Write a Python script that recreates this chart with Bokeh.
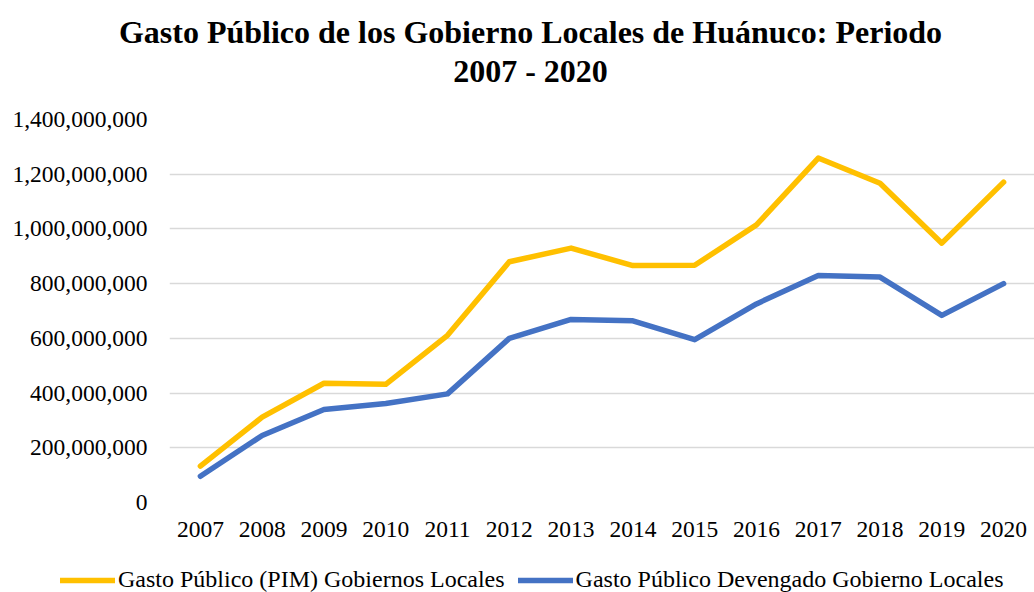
from bokeh.plotting import figure
from bokeh.layouts import column
from bokeh.models import (FactorRange, Range1d, SingleIntervalTicker, NumeralTickFormatter,
                          Label, Legend, LegendItem)
from bokeh.embed import file_html
from bokeh.resources import INLINE

years = ["2007", "2008", "2009", "2010", "2011", "2012", "2013",
         "2014", "2015", "2016", "2017", "2018", "2019", "2020"]
pim = [133e6, 312e6, 436e6, 432e6, 611e6, 880e6, 930e6,
       866e6, 867e6, 1015e6, 1259e6, 1167e6, 948e6, 1171e6]
devengado = [96e6, 245e6, 340e6, 362e6, 397e6, 600e6, 669e6,
             664e6, 595e6, 726e6, 830e6, 824e6, 684e6, 800e6]

title_line1 = "Gasto Público de los Gobierno Locales de Huánuco: Periodo"
title_line2 = "2007 - 2020"
name_pim = "Gasto Público (PIM) Gobiernos Locales"
name_dev = "Gasto Público Devengado Gobierno Locales"

FONT = "Liberation Serif"
GOLD = "#FFC000"
BLUE = "#4472C4"
W = 1034
HEAD_H = 100
FOOT_H = 36
MAIN_H = 592 - HEAD_H - FOOT_H


def blank(height):
    f = figure(width=W, height=height, x_range=Range1d(0, W), y_range=Range1d(height, 0),
               x_axis_type=None, y_axis_type=None, output_backend="svg",
               toolbar_location=None, min_border=0, frame_align=False)
    f.outline_line_color = None
    f.xgrid.visible = False
    f.ygrid.visible = False
    return f


# ---- title block
head = blank(HEAD_H)
for txt, base in ((title_line1, 31), (title_line2, 70)):
    head.add_layout(Label(x=530, y=base, text=txt, text_font=FONT, text_font_style="bold",
                          text_font_size="32px", text_align="center",
                          text_baseline="alphabetic", text_color="black"))

# ---- main chart
p = figure(width=W, height=MAIN_H, x_range=FactorRange(*years),
           y_range=Range1d(0, 1.4e9), output_backend="svg",
           toolbar_location=None, min_border_left=169, min_border_right=0,
           min_border_top=119 - HEAD_H, min_border_bottom=592 - FOOT_H - 502,
           frame_align=False)
p.outline_line_color = None

p.line(years, pim, line_color=GOLD, line_width=5.5, line_cap="round", line_join="round")
p.line(years, devengado, line_color=BLUE, line_width=5.5, line_cap="round", line_join="round")

p.xgrid.grid_line_color = None
p.ygrid.grid_line_color = "#D9D9D9"
p.ygrid.grid_line_width = 1.5

p.yaxis.ticker = SingleIntervalTicker(interval=2e8, num_minor_ticks=0)
p.yaxis.formatter = NumeralTickFormatter(format="0,0")
for ax in (p.xaxis[0], p.yaxis[0]):
    ax.axis_line_color = None
    ax.major_tick_line_color = None
    ax.minor_tick_line_color = None
    ax.major_tick_out = 0
    ax.major_tick_in = 0
    ax.major_label_text_font = FONT
    ax.major_label_text_font_size = "23.5px"
    ax.major_label_text_color = "black"
p.yaxis.major_label_standoff = 22
p.xaxis.major_label_standoff = 19

# ---- legend block: hidden copies of the two series supply the legend swatches
foot = blank(FOOT_H)
k1 = foot.line(x=pim, y=devengado, line_color=GOLD, line_width=5.5, line_cap="round",
               visible=False)
k2 = foot.line(x=pim, y=devengado, line_color=BLUE, line_width=5.5, line_cap="round",
               visible=False)
legend = Legend(items=[LegendItem(label=name_pim, renderers=[k1]),
                       LegendItem(label=name_dev, renderers=[k2])],
                orientation="horizontal", location=(60, -1),
                padding=0, margin=0, spacing=13, glyph_width=55, glyph_height=20,
                label_standoff=3, label_text_font=FONT, label_text_font_size="24px",
                label_text_color="black", border_line_color=None,
                background_fill_alpha=0, inactive_fill_alpha=0)
foot.add_layout(legend, "center")

layout = column(head, p, foot, spacing=0)
open("out.html", "w").write(file_html(layout, INLINE))
